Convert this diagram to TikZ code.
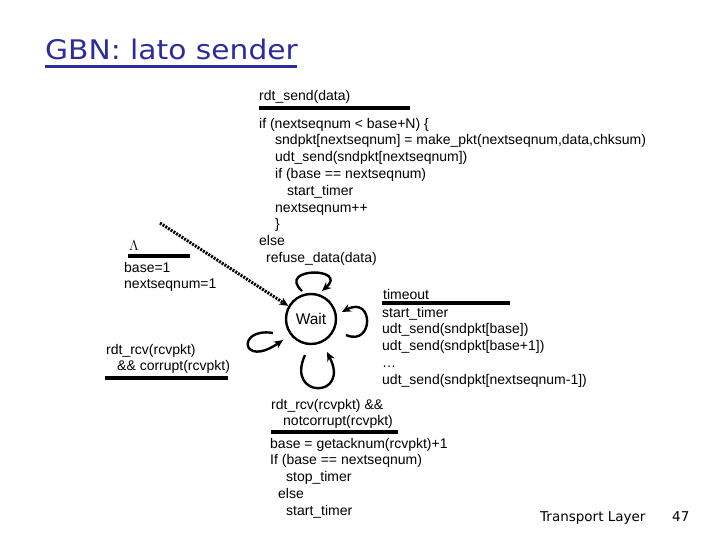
\documentclass[tikz,border=0pt]{standalone}
\usepackage{fontspec}
\setmainfont{Liberation Sans}
\newfontfamily\titlefont{DejaVu Sans}
\usetikzlibrary{arrows.meta}
\definecolor{titleblue}{RGB}{44,44,158}
\newcommand{\codefont}{\fontsize{14}{16.8}\selectfont}
\tikzset{
  code/.style={align=left, anchor=north west, inner sep=0pt, font=\codefont},
  lbl/.style={anchor=base west, inner sep=0pt, font=\codefont},
  bar/.style={line width=3.2pt},
  loopline/.style={line width=2.4pt, -{Stealth[length=9pt,width=8pt]}},
  state/.style={circle, draw, line width=2.4pt, minimum size=50pt, inner sep=0pt, font=\fontsize{15.5}{18}\selectfont}
}
\begin{document}
\begin{tikzpicture}[x=1pt,y=-1pt]
\useasboundingbox (0,0) rectangle (720,540);
% title
\node[anchor=base west, inner sep=0pt, text=titleblue, font=\titlefont\fontsize{27}{32}\selectfont] (title) at (45,60) {\scalebox{1.1}[1]{GBN: lato sender}};
\draw[titleblue, line width=2.2pt] (title.base west) ++(0,6.5) coordinate (tl) -- ++(252,0) coordinate (tr);
% state
\node[state] (wait) at (311,319) {Wait};
% init
\node[lbl, font=\fontsize{15}{17}\selectfont] (lam) at (129,251) {$\Lambda$};
\coordinate (lamA) at (128,256); \coordinate (lamB) at (190,256);
\draw[bar] (lamA) -- (lamB);
\node[code] (init) at (124,260.2) {\strut base=1\\nextseqnum=1};
\coordinate (start) at (160,223);
\draw[line width=3pt, dash pattern=on 2pt off 1.2pt, -{Stealth[length=9pt,width=8pt]}] (start) -- (wait.150);
% rdt_send
\node[lbl] (snd) at (259,101) {rdt\_send(data)};
\coordinate (sndA) at (259,108); \coordinate (sndB) at (410,108);
\draw[bar] (sndA) -- (sndB);
\node[code] (sndact) at (259,116.2) {\strut if (nextseqnum < base+N) \{\\
\hspace*{16pt}sndpkt[nextseqnum] = make\_pkt(nextseqnum,data,chksum)\\
\hspace*{16pt}udt\_send(sndpkt[nextseqnum])\\
\hspace*{16pt}if (base == nextseqnum)\\
\hspace*{28pt}start\_timer\\
\hspace*{16pt}nextseqnum++\\
\hspace*{16pt}\}\\
else\\
\hspace*{7pt}refuse\_data(data)};
% timeout
\node[lbl] (to) at (383,299) {timeout};
\coordinate (toA) at (382,303); \coordinate (toB) at (510,303);
\draw[bar] (toA) -- (toB);
\node[code] (toact) at (382,305.2) {\strut start\_timer\\
udt\_send(sndpkt[base])\\
udt\_send(sndpkt[base+1])\\
\dots\\
udt\_send(sndpkt[nextseqnum-1])};
% rcv notcorrupt
\node[code] (rcv) at (271,397.2) {\strut rdt\_rcv(rcvpkt) \&\&\\\hspace*{12pt}notcorrupt(rcvpkt)};
\coordinate (rcvA) at (271,432); \coordinate (rcvB) at (398,432);
\draw[bar] (rcvA) -- (rcvB);
\node[code] (rcvact) at (270,436.2) {\strut base = getacknum(rcvpkt)+1\\
If (base == nextseqnum)\\
\hspace*{16pt}stop\_timer\\
\hspace*{8pt}else\\
\hspace*{16pt}start\_timer};
% rcv corrupt
\node[code] (cor) at (106,342.2) {\strut rdt\_rcv(rcvpkt)\\\hspace*{11pt}\&\& corrupt(rcvpkt)};
\coordinate (corA) at (105,378); \coordinate (corB) at (228,378);
\draw[bar] (corA) -- (corB);
% self loops
\draw[loopline] ([shift={(-9,-28)}]wait.center) .. controls ([shift={(-35,-52)}]wait.center) and ([shift={(38,-52)}]wait.center) .. ([shift={(11,-28)}]wait.center);
\draw[loopline] ([shift={(35,16)}]wait.center) .. controls ([shift={(63,28)}]wait.center) and ([shift={(63,-24)}]wait.center) .. ([shift={(31,-7)}]wait.center);
\draw[loopline] ([shift={(-6,36)}]wait.center) .. controls ([shift={(-26,80)}]wait.center) and ([shift={(40,80)}]wait.center) .. ([shift={(16,33)}]wait.center);
\draw[loopline] ([shift={(-38,14)}]wait.center) .. controls ([shift={(-75,8)}]wait.center) and ([shift={(-70,50)}]wait.center) .. ([shift={(-28,21)}]wait.center);
% footer
\node[anchor=base west, inner sep=0pt, font=\titlefont\fontsize{13.5}{16}\selectfont] (foot) at (540,521) {Transport Layer};
\node[anchor=base west, inner sep=0pt, font=\titlefont\fontsize{13.5}{16}\selectfont] (page) at (672,521) {47};
\end{tikzpicture}
\end{document}
